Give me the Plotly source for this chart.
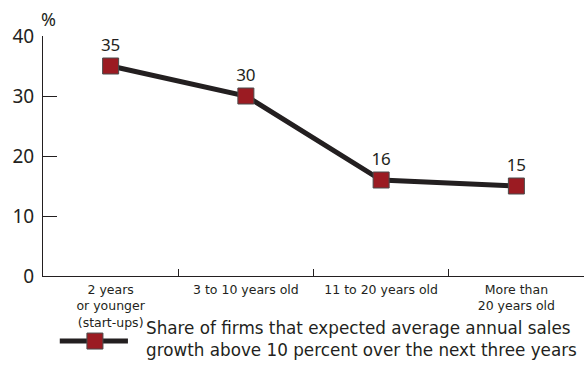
import plotly.graph_objects as go

categories = ["2 years<br>or younger<br>(start-ups)", "3 to 10 years old",
              "11 to 20 years old", "More than<br>20 years old"]
values = [35, 30, 16, 15]
y_ticks = [0, 10, 20, 30, 40]
legend_text = ("Share of firms that expected average annual sales<br>"
               "growth above 10 percent over the next three years")

LINE_COLOR = "#231f20"
MARKER_COLOR = "#9b1b22"
MARKER_EDGE = "#4a4a4a"
FONT = "Noto Sans"
BODY_FONT = "DejaVu Sans"

fig = go.Figure()
fig.add_trace(go.Scatter(
    x=categories, y=values, mode="lines+markers+text",
    text=[str(v) for v in values], textposition="top center",
    textfont=dict(family=FONT, size=17, color="#231f20"),
    line=dict(color=LINE_COLOR, width=5),
    marker=dict(symbol="square", size=16, color=MARKER_COLOR,
                line=dict(color=MARKER_EDGE, width=1)),
    cliponaxis=False, showlegend=False,
))

# legend sample: thick line with a square marker, drawn below the plot
lx0, lx1, lxm, ly = 0.031, 0.157, 0.096, -0.271
fig.add_shape(type="line", xref="paper", yref="paper", x0=lx0, x1=lx1, y0=ly, y1=ly,
              line=dict(color=LINE_COLOR, width=5))
fig.add_shape(type="rect", xref="paper", yref="paper",
              x0=lxm - 0.0148, x1=lxm + 0.0148, y0=ly - 0.0333, y1=ly + 0.0333,
              fillcolor=MARKER_COLOR, line=dict(color=MARKER_EDGE, width=1))
fig.add_annotation(xref="paper", yref="paper", x=0.186, y=-0.262, xanchor="left",
                   yanchor="middle", align="left", showarrow=False, text=legend_text,
                   font=dict(family=BODY_FONT, size=16.8, color="#231f20"))
fig.add_annotation(xref="paper", yref="paper", x=-0.007, y=1.071, xanchor="left",
                   yanchor="middle", showarrow=False, text="%",
                   font=dict(family=FONT, size=18, color="#231f20"))

fig.update_layout(
    width=586, height=387, margin=dict(l=43, r=2, t=36, b=111),
    plot_bgcolor="white", paper_bgcolor="white",
    font=dict(family=FONT, color="#231f20"),
    xaxis=dict(type="category", tickson="boundaries", ticks="inside", ticklen=7,
               tickcolor="#231f20", showline=True, linecolor="#231f20", linewidth=1,
               showgrid=False, tickfont=dict(family=BODY_FONT, size=12.5),
               ticklabelstandoff=2, range=[-0.5, 3.5]),
    yaxis=dict(range=[0, 40], tickvals=y_ticks, ticks="inside", ticklen=14,
               tickcolor="#231f20", showline=True, linecolor="#231f20", linewidth=1,
               showgrid=False, zeroline=False, tickfont=dict(size=19),
               ticklabelstandoff=4),
)

fig.write_html("out.html")
